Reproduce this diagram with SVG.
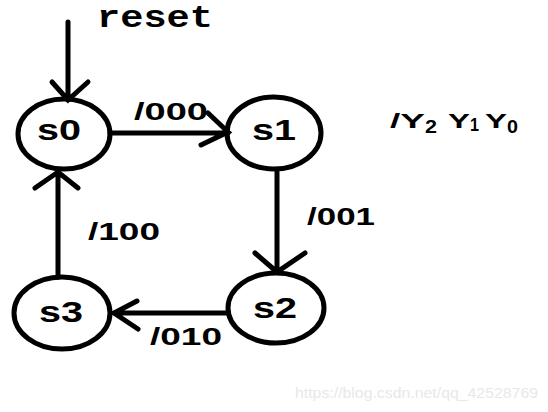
<svg xmlns="http://www.w3.org/2000/svg" width="548" height="412" viewBox="0 0 548 412">
<style>
.st{fill:none;stroke:#000;stroke-width:5}
.ln{fill:none;stroke:#000;stroke-width:5;stroke-linecap:round}
.nt{font-family:"Liberation Sans",Arial,sans-serif;font-size:29px;font-weight:bold;text-anchor:middle;fill:#000}
.lb{font-family:"Liberation Sans",Arial,sans-serif;font-size:24px;font-weight:bold;fill:#000}
.mono{font-family:"Liberation Mono","Courier New",monospace;font-size:32px;font-weight:bold;fill:#000}
.y{font-family:"Liberation Sans",Arial,sans-serif;font-size:21px;font-weight:bold;fill:#000}
.sub{font-family:"Liberation Sans",Arial,sans-serif;font-size:19px;font-weight:bold;fill:#000}
</style>
<rect width="548" height="412" fill="#fff"/>
<g id="connectors">
<path class="ln" d="M68 22V100M52 82L68 100L88 82"/>
<path class="ln" d="M110 133H228M208 113L228 132L201 145"/>
<path class="ln" d="M277 172V272M255 253L277 272L305 253"/>
<path class="ln" d="M228 313H114M137 301L114 313L138 329"/>
<path class="ln" d="M58 277V172M35 188L58 172L78 188"/>
</g>
<g id="s0"><ellipse class="st" cx="64" cy="134" rx="46" ry="35"/><text class="nt" x="59" y="140" textLength="44" lengthAdjust="spacingAndGlyphs">s0</text></g>
<g id="s1"><ellipse class="st" cx="274" cy="133" rx="47" ry="36"/><text class="nt" x="274" y="140" textLength="44" lengthAdjust="spacingAndGlyphs">s1</text></g>
<g id="s2"><ellipse class="st" cx="276" cy="308" rx="48" ry="35"/><text class="nt" x="275" y="318" textLength="44" lengthAdjust="spacingAndGlyphs">s2</text></g>
<g id="s3"><ellipse class="st" cx="62" cy="313" rx="48" ry="36"/><text class="nt" x="61" y="322" textLength="44" lengthAdjust="spacingAndGlyphs">s3</text></g>
<text class="mono" x="97" y="27" textLength="116" lengthAdjust="spacingAndGlyphs">reset</text>
<text class="lb" x="134" y="120" textLength="74" lengthAdjust="spacingAndGlyphs">/000</text>
<text class="lb" x="307" y="225" textLength="68" lengthAdjust="spacingAndGlyphs">/001</text>
<text class="lb" x="150" y="345" textLength="72" lengthAdjust="spacingAndGlyphs">/010</text>
<text class="lb" x="88" y="240" textLength="72" lengthAdjust="spacingAndGlyphs">/100</text>
<text class="y" x="390" y="128" textLength="35" lengthAdjust="spacingAndGlyphs">/Y</text>
<text class="sub" x="425" y="133" textLength="12" lengthAdjust="spacingAndGlyphs">2</text>
<text class="y" x="448" y="128" textLength="22" lengthAdjust="spacingAndGlyphs">Y</text>
<text class="sub" x="470" y="131" textLength="9" lengthAdjust="spacingAndGlyphs">1</text>
<text class="y" x="485" y="128" textLength="22" lengthAdjust="spacingAndGlyphs">Y</text>
<text class="sub" x="507" y="133" textLength="11" lengthAdjust="spacingAndGlyphs">0</text>
<text font-family="'Liberation Sans',Arial,sans-serif" font-size="15" fill="#e8e8e8" x="295" y="398" textLength="243" lengthAdjust="spacingAndGlyphs">https://blog.csdn.net/qq_42528769</text>
</svg>
